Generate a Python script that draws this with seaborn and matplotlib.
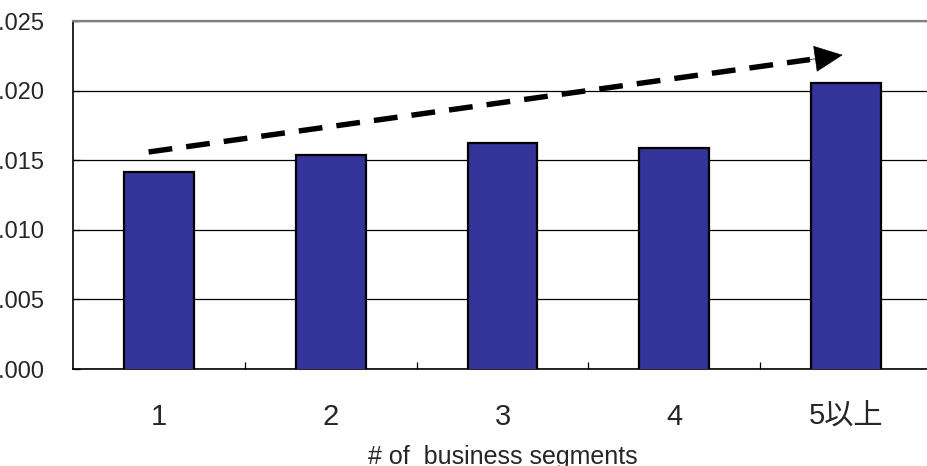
import matplotlib
matplotlib.use("Agg")
import matplotlib.pyplot as plt
import seaborn as sns
import pandas as pd

# Average ratio by number of business segments
segments = ["1", "2", "3", "4", "5以上"]
ratios = [1.01415, 1.01537, 1.01624, 1.01588, 1.02055]
y_ticks = [1.000, 1.005, 1.010, 1.015, 1.020, 1.025]
x_title = "# of  business segments"

# Trend arrow endpoints (category index, value)
trend_start = (-0.06, 1.01559)
trend_end = (3.98, 1.02256)

sns.set_theme(style="white")
plt.rcParams["font.family"] = ["Liberation Sans", "Noto Sans CJK JP", "DejaVu Sans"]

df = pd.DataFrame({"segment": segments, "ratio": ratios})

fig = plt.figure(figsize=(9.27, 4.66), dpi=100)
ax = fig.add_axes([73 / 927, 1 - 369 / 466, 859 / 927, 348 / 466])

sns.barplot(data=df, x="segment", y="ratio", order=segments, color="#333399",
            saturation=1, width=0.407, edgecolor="black", linewidth=1.6, ax=ax,
            zorder=3)

ax.set_ylim(1.000, 1.025)
ax.set_xlim(-0.5, 4.5)
ax.set_yticks(y_ticks)
ax.set_yticklabels([f"{v:.3f}" for v in y_ticks])
ax.yaxis.grid(True, color="black", linewidth=0.9, zorder=0)
ax.set_axisbelow(True)

for s in ["left", "bottom"]:
    ax.spines[s].set_color("black")
    ax.spines[s].set_linewidth(1.2)
ax.spines["top"].set_color("#808080")
ax.spines["top"].set_linewidth(1.6)
ax.spines["right"].set_visible(False)

ax.tick_params(axis="y", direction="in", length=5, width=0.9, color="black",
               pad=21, labelsize=17, left=True)
ax.tick_params(axis="x", which="major", length=0, pad=24.5, labelsize=21)
ax.set_xticks([0.5, 1.5, 2.5, 3.5], minor=True)
ax.tick_params(axis="x", which="minor", direction="in", length=5, width=0.9,
               color="black", bottom=True)

ax.set_xlabel(x_title, fontsize=18)
ax.xaxis.set_label_coords(0.5, (369 - 464) / 348)
ax.xaxis.label.set_va("baseline")
ax.set_ylabel("")

# Dashed trend line with a solid arrowhead
head_len = 0.19
dx = trend_end[0] - trend_start[0]
dy = trend_end[1] - trend_start[1]
base = (trend_end[0] - head_len, trend_end[1] - dy * head_len / dx)
ax.plot([trend_start[0], base[0]], [trend_start[1], base[1]], color="black",
        linewidth=3.9, dashes=(4.4, 2.6), solid_capstyle="butt",
        dash_capstyle="butt", zorder=5)
ax.annotate("", xy=trend_end, xytext=base,
            arrowprops=dict(arrowstyle="-|>,head_length=1.6,head_width=0.75",
                            color="black", linewidth=0.5, shrinkA=0, shrinkB=0),
            zorder=6)

fig.savefig("out.png", dpi=100)
